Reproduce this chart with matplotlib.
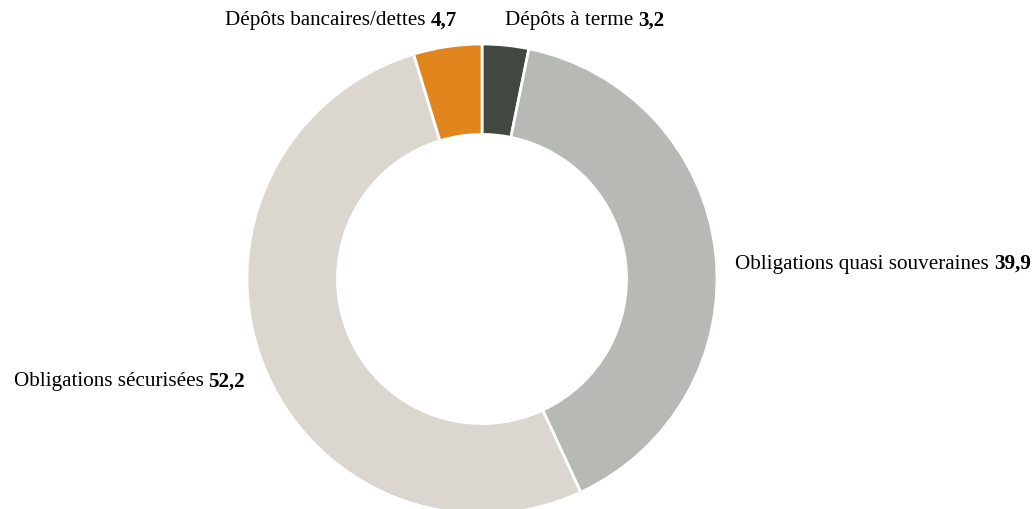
import matplotlib.pyplot as plt

# data
labels = ['Dépôts à terme', 'Obligations quasi souveraines',
          'Obligations sécurisées', 'Dépôts bancaires/dettes']
values = [3.2, 39.9, 52.2, 4.7]
colors = ['#414840', '#b7b9b4', '#dbd7d0', '#e0861c']

W, H = 1034, 510
fig = plt.figure(figsize=(W / 100, H / 100), dpi=100)
ax = fig.add_axes([0, 0, 1, 1])

cx, cy, r = 482, H - 280, 235
ax.pie(values, colors=colors, startangle=90, counterclock=False,
       center=(cx, cy), radius=r,
       wedgeprops=dict(width=r * 0.385, edgecolor='white', linewidth=2))
ax.set_xlim(0, W)
ax.set_ylim(0, H)
ax.set_aspect('equal')
ax.axis('off')

# label anchors (pixel coords, x, y-from-top, alignment)
label_pos = [(505, 21, 'left'), (735, 264, 'left'),
             (245, 382, 'right'), (457, 21, 'right')]

fam = 'Liberation Serif'
fs = 15.2
fig.canvas.draw()
renderer = fig.canvas.get_renderer()
for lab, val, (x, y, ha) in zip(labels, values, label_pos):
    vtxt = f'{val:.1f}'.replace('.', ',')
    yy = H - y
    if ha == 'left':
        t = ax.text(x, yy, lab, ha='left', va='center',
                    fontsize=fs, family=fam)
        bb = t.get_window_extent(renderer)
        ax.text(bb.x1 + 5, yy, vtxt, ha='left', va='center',
                fontsize=fs, family=fam, fontweight='bold')
    else:
        t = ax.text(x, yy, vtxt, ha='right', va='center',
                    fontsize=fs, family=fam, fontweight='bold')
        bb = t.get_window_extent(renderer)
        ax.text(bb.x0 - 5, yy, lab, ha='right', va='center',
                fontsize=fs, family=fam)

fig.savefig('out.png', dpi=100, facecolor='white')
